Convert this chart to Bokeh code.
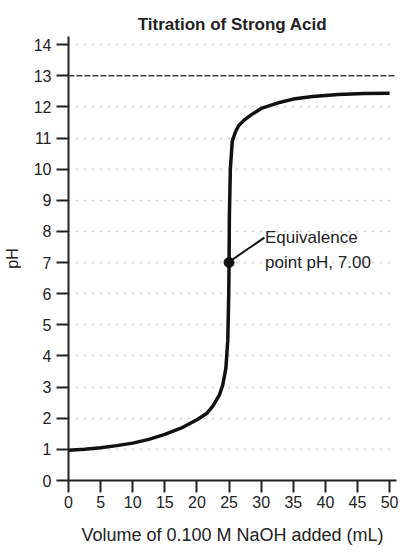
from bokeh.plotting import figure
from bokeh.models import Range1d, FixedTicker, Span
from bokeh.core.properties import value
from bokeh.embed import file_html
from bokeh.resources import INLINE

# Titration curve
volume_ml = [0, 2.5, 5, 7.5, 10, 12.5, 15, 17.5, 20, 21.5, 22.5, 23.5, 24, 24.5,
             24.8, 24.95, 25, 25.05, 25.2, 25.5, 26, 26.5, 27.5, 28.5, 30, 33,
             35, 38, 42, 46, 50]
ph = [0.97, 1.0, 1.05, 1.12, 1.2, 1.32, 1.48, 1.68, 1.95, 2.15, 2.4, 2.75, 3.05,
      3.6, 4.5, 6.0, 7.0, 8.5, 10.0, 10.9, 11.2, 11.4, 11.6, 11.75, 11.95, 12.15,
      12.25, 12.33, 12.4, 12.43, 12.44]

x_ticks = [0, 5, 10, 15, 20, 25, 30, 35, 40, 45, 50]
y_ticks = list(range(0, 15))

eq_x = [25]
eq_y = [7.0]
eq_label_lines = ["Equivalence", "point pH, 7.00"]
eq_label_x = [30.6, 30.6]
eq_label_y = [7.8, 7.0]
eq_pointer_x = [25.2, 30.5]
eq_pointer_y = [7.05, 7.8]

FONT = "Liberation Sans"

p = figure(width=398, height=547, output_backend="svg", toolbar_location=None,
           title="Titration of Strong Acid",
           x_range=Range1d(0, 51.07), y_range=Range1d(0, 14.26),
           min_border_left=63, min_border_right=2, min_border_top=36,
           min_border_bottom=65)
p.outline_line_color = None
p.background_fill_color = "white"

p.title.align = "center"
p.title.text_font = FONT
p.title.text_font_size = "17px"
p.title.text_font_style = "bold"
p.title.text_color = "#222222"
p.title.offset = 3
p.title.standoff = 6

for ax in (p.xaxis[0], p.yaxis[0]):
    ax.axis_line_width = 2
    ax.axis_line_color = "#222222"
    ax.major_tick_line_width = 2
    ax.major_tick_line_color = "#222222"
    ax.major_tick_in = 0
    ax.major_tick_out = 12
    ax.minor_tick_line_color = None
    ax.major_label_text_font = FONT
    ax.major_label_text_font_size = "16px"
    ax.major_label_text_color = "#222222"
    ax.axis_label_text_font = FONT
    ax.axis_label_text_font_style = "normal"
    ax.axis_label_text_color = "#222222"

p.xaxis.ticker = FixedTicker(ticks=x_ticks)
p.yaxis.ticker = FixedTicker(ticks=y_ticks)
p.xaxis.axis_label = "Volume of 0.100 M NaOH added (mL)"
p.xaxis.axis_label_text_font_size = "18px"
p.xaxis.major_label_standoff = 3
p.xaxis.axis_label_standoff = 14
p.yaxis.axis_label = "pH"
p.yaxis.axis_label_text_font_size = "16px"
p.yaxis.major_label_standoff = 5
p.yaxis.axis_label_standoff = 10

p.xgrid.grid_line_color = None
p.ygrid.grid_line_color = "#9a9a9a"
p.ygrid.grid_line_dash = "1 7"
p.ygrid.grid_line_width = 1.5

p.add_layout(Span(location=13, dimension="width", line_color="#444444",
                  line_dash="6 2", line_width=1.5))

p.line(volume_ml, ph, line_color="#111111", line_width=3.5)
p.line(eq_pointer_x, eq_pointer_y, line_color="#111111", line_width=2)
p.scatter(eq_x, eq_y, size=10, fill_color="#111111", line_color="#111111")
p.text(eq_label_x, eq_label_y, text=eq_label_lines, text_font=value(FONT),
       text_font_size="17px", text_color="#222222", text_baseline="middle",
       text_align="left")

open("out.html", "w").write(file_html(p, INLINE))
